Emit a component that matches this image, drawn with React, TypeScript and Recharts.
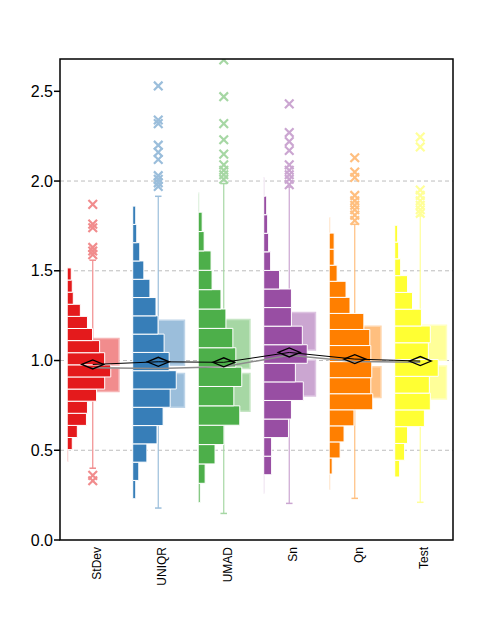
import React from 'react';
import { ComposedChart, XAxis, YAxis, ReferenceArea, ReferenceLine, Scatter, Line } from 'recharts';

const categories = ['StDev', 'UNIQR', 'UMAD', 'Sn', 'Qn', 'Test'];
const colors = ['#E41A1C', '#377EB8', '#4DAF4A', '#984EA3', '#FF7F00', '#FFFF33'];
const lightColors = ['#F18C8D', '#9BBEDB', '#A6D7A4', '#CBA6D1', '#FFBF7F', '#FFFF99'];
const edgeColors = ['#F6B4B5', '#BDD4E8', '#C6E5C4', '#DDC4E1', '#FFD6AD', '#FFFFC0'];

// histogram: first bin lower edge, bin width, counts from bottom bin to top bin
const histStart = [0.436, 0.23, 0.208, 0.26, 0.278, 0.351];
const histBinWidth = [0.0675, 0.1019, 0.1079, 0.1035, 0.0895, 0.0935];
const histStDev = [1, 5, 10, 19, 20, 29, 37, 43, 37, 32, 25, 20, 13, 6, 5, 4];
const histUNIQR = [3, 6, 14, 24, 30, 37, 43, 36, 31, 25, 23, 17, 11, 7, 4, 3];
const histUMAD = [2, 7, 17, 26, 42, 36, 44, 38, 35, 28, 23, 14, 13, 6, 4, 1];
const histSn = [1, 8, 8, 25, 28, 40, 32, 44, 39, 28, 28, 16, 7, 5, 4, 3, 1];
const histQn = [1, 3, 11, 15, 25, 44, 42, 43, 42, 41, 35, 21, 17, 8, 5, 5, 1];
const histTest = [5, 10, 13, 30, 36, 35, 44, 34, 36, 27, 18, 13, 6, 4, 3];
const histCounts = [histStDev, histUNIQR, histUMAD, histSn, histQn, histTest];

// box plot statistics
const q1 = [0.828, 0.739, 0.718, 0.802, 0.794, 0.785];
const q3 = [1.123, 1.225, 1.229, 1.268, 1.191, 1.197];
const notchLo = [0.958, 0.928, 0.928, 1.002, 0.965, 0.97];
const notchHi = [0.975, 0.974, 0.956, 1.058, 1.002, 1.002];
const whiskerLo = [0.4, 0.178, 0.148, 0.204, 0.232, 0.21];
const whiskerHi = [1.559, 1.915, 1.986, 1.967, 1.759, 1.806];
const means = [0.978, 0.993, 0.99, 1.045, 1.008, 0.997];
const medians = [0.96, 0.956, 0.965, 1.03, 0.995, 0.99];

const outStDev = [1.87, 1.76, 1.74, 1.63, 1.61, 1.59, 0.36, 0.33];
const outUNIQR = [2.53, 2.34, 2.32, 2.2, 2.16, 2.12, 2.03, 2.01, 1.99, 1.97];
const outUMAD = [2.675, 2.47, 2.32, 2.23, 2.15, 2.09, 2.06, 2.035, 2.01];
const outSn = [2.43, 2.27, 2.22, 2.17, 2.09, 2.06, 2.035, 2.01, 1.98];
const outQn = [2.13, 2.05, 2.02, 1.92, 1.89, 1.865, 1.84, 1.81, 1.78];
const outTest = [2.245, 2.19, 1.95, 1.92, 1.89, 1.865, 1.84, 1.82];
const outliers = [outStDev, outUNIQR, outUMAD, outSn, outQn, outTest];

const yTicks = [0, 0.5, 1, 1.5, 2, 2.5];
const gridValues = [0.5, 1, 1.5, 2];

const summary = categories.map((name, i) => ({ x: i, name, mean: means[i], median: medians[i] }));
const outlierData = outliers.flatMap((arr, i) => arr.map((v) => ({ x: i, y: v, c: i })));

const BAR_OFFSET = 0.39;
const BAR_MAX = 0.665;
const BOX_W = 0.4;
const CAP = 0.05;
const FONT = '"Liberation Sans", Arial, sans-serif';

const Cross = (props: any) => {
  const { cx, cy, payload } = props;
  if (cx == null || cy == null) return null;
  const s = 4.3;
  const col = lightColors[payload.c];
  return (
    <path
      d={`M${cx - s},${cy - s}L${cx + s},${cy + s}M${cx - s},${cy + s}L${cx + s},${cy - s}`}
      stroke={col}
      strokeWidth={2.2}
      fill="none"
    />
  );
};

const Diamond = (props: any) => {
  const { cx, cy } = props;
  if (cx == null || cy == null) return null;
  const w = 11;
  const h = 4.5;
  return (
    <path
      d={`M${cx - w},${cy}L${cx},${cy - h}L${cx + w},${cy}L${cx},${cy + h}Z`}
      stroke="#000"
      strokeWidth={1.3}
      fill="none"
    />
  );
};

const XTick = (props: any) => {
  const { x, y, payload } = props;
  const ax = x + 8;
  const ay = y + 7;
  return (
    <text
      x={ax}
      y={ay}
      transform={`rotate(-90 ${ax} ${ay})`}
      textAnchor="end"
      fontSize={12}
      fontFamily={FONT}
      fill="#000"
    >
      {categories[payload.value]}
    </text>
  );
};

export default function App() {
  const histAreas: any[] = [];
  histCounts.forEach((counts, i) => {
    const mx = Math.max(...counts);
    counts.forEach((c, j) => {
      histAreas.push(
        <ReferenceArea
          key={`h${i}-${j}`}
          x1={i - BAR_OFFSET}
          x2={i - BAR_OFFSET + (c / mx) * BAR_MAX}
          y1={histStart[i] + j * histBinWidth[i]}
          y2={histStart[i] + (j + 1) * histBinWidth[i]}
          fill={colors[i]}
          fillOpacity={1}
          stroke="#ffffff"
          strokeWidth={1}
          ifOverflow="visible"
          zIndex={40}
        />
      );
    });
  });

  return (
    <ComposedChart
      width={490}
      height={603}
      data={summary}
      margin={{ top: 51, right: 45, bottom: 11, left: 12 }}
    >
      <XAxis
        dataKey="x"
        type="number"
        domain={[-0.5, 5.5]}
        ticks={[0, 1, 2, 3, 4, 5]}
        allowDataOverflow
        axisLine={false}
        tickLine={false}
        tickSize={0}
        tickMargin={0}
        height={60}
        tick={<XTick />}
        interval={0}
      />
      <YAxis
        type="number"
        domain={[0, 2.68]}
        ticks={yTicks}
        allowDataOverflow
        axisLine={false}
        tickLine={{ stroke: '#000', strokeWidth: 1.5 }}
        tickSize={6}
        tickMargin={1}
        width={40}
        tickFormatter={(v: number) => v.toFixed(1)}
        tick={{ fontSize: 16, fontFamily: FONT, fill: '#000' }}
        interval={0}
      />
      {gridValues.map((v) => (
        <ReferenceLine key={`g${v}`} y={v} stroke="#bdbdbd" strokeDasharray="4 3" strokeWidth={1} zIndex={10} />
      ))}
      {categories.map((_, i) => (
        <ReferenceLine
          key={`wu${i}`}
          segment={[{ x: i, y: q3[i] }, { x: i, y: whiskerHi[i] }]}
          stroke={lightColors[i]}
          strokeWidth={1.2}
          zIndex={20}
        />
      ))}
      {categories.map((_, i) => (
        <ReferenceLine
          key={`wl${i}`}
          segment={[{ x: i, y: whiskerLo[i] }, { x: i, y: q1[i] }]}
          stroke={lightColors[i]}
          strokeWidth={1.2}
          zIndex={20}
        />
      ))}
      {categories.map((_, i) => (
        <ReferenceLine
          key={`cu${i}`}
          segment={[{ x: i - CAP, y: whiskerHi[i] }, { x: i + CAP, y: whiskerHi[i] }]}
          stroke={lightColors[i]}
          strokeWidth={1.5}
          zIndex={20}
        />
      ))}
      {categories.map((_, i) => (
        <ReferenceLine
          key={`cl${i}`}
          segment={[{ x: i - CAP, y: whiskerLo[i] }, { x: i + CAP, y: whiskerLo[i] }]}
          stroke={lightColors[i]}
          strokeWidth={1.5}
          zIndex={20}
        />
      ))}
      {categories.map((_, i) => (
        <ReferenceArea
          key={`bu${i}`}
          x1={i}
          x2={i + BOX_W}
          y1={notchHi[i]}
          y2={q3[i]}
          fill={lightColors[i]}
          fillOpacity={1}
          stroke={edgeColors[i]}
          strokeWidth={1.5}
          ifOverflow="visible"
          zIndex={30}
        />
      ))}
      {categories.map((_, i) => (
        <ReferenceArea
          key={`bl${i}`}
          x1={i}
          x2={i + BOX_W}
          y1={q1[i]}
          y2={notchLo[i]}
          fill={lightColors[i]}
          fillOpacity={1}
          stroke={edgeColors[i]}
          strokeWidth={1.5}
          ifOverflow="visible"
          zIndex={30}
        />
      ))}
      {histAreas}
      <Scatter data={outlierData} dataKey="y" shape={<Cross />} isAnimationActive={false} zIndex={50} />
      <Line
        dataKey="median"
        type="linear"
        stroke="#8c8c8c"
        strokeWidth={1.5}
        dot={false}
        activeDot={false}
        isAnimationActive={false}
        zIndex={60}
      />
      <Line
        dataKey="mean"
        type="linear"
        stroke="#000"
        strokeWidth={1}
        dot={false}
        activeDot={false}
        isAnimationActive={false}
        zIndex={61}
      />
      <Scatter data={summary} dataKey="mean" shape={<Diamond />} isAnimationActive={false} zIndex={70} />
      <ReferenceArea
        x1={-0.5}
        x2={5.5}
        y1={0}
        y2={2.68}
        fill="none"
        fillOpacity={0}
        stroke="#000"
        strokeWidth={1.5}
        ifOverflow="visible"
        zIndex={80}
      />
    </ComposedChart>
  );
}
